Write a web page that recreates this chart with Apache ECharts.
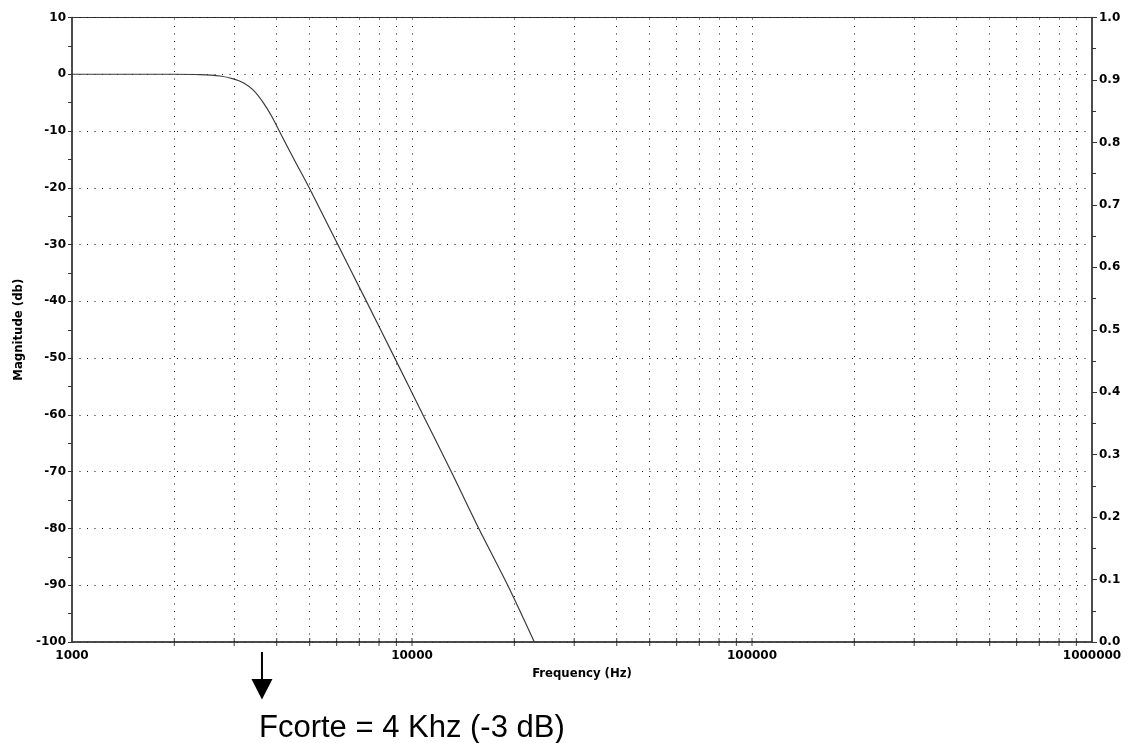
<!DOCTYPE html>
<html>
<head>
<meta charset="utf-8">
<script src="https://cdn.jsdelivr.net/npm/echarts@6/dist/echarts.min.js"></script>
<style>
html,body{margin:0;padding:0;background:#fff;}
#chart{width:1134px;height:743px;}
</style>
</head>
<body>
<div id="chart"></div>
<script>
// Frequency response
const freqHz = [1000, 1500, 2000, 2380, 2725, 2982, 3190, 3414, 3652, 3866, 4070, 4500, 4985, 6050, 7346, 8900, 10772, 13050, 15720, 19120, 22900];
const magnitudeDb = [0, 0, 0, -0.05, -0.3, -0.8, -1.5, -2.8, -5.0, -7.4, -10, -15, -20, -30, -40, -50, -60, -70, -80, -90, -100];

// Vertical grid / tick positions on the log frequency axis
const gridFreqs = [2000, 3000, 4000, 5000, 6000, 7000, 8000, 9000, 10000,
  20000, 30000, 40000, 50000, 60000, 70000, 80000, 90000, 100000,
  200000, 300000, 400000, 500000, 600000, 700000, 800000, 900000];

const xName = 'Frequency (Hz)';
const yName = 'Magnitude (db)';
const annotationText = 'Fcorte = 4 Khz (-3 dB)';
const markerFreq = 3620;

const chart = echarts.init(document.getElementById('chart'), null, {renderer: 'canvas'});
const FONT = '"Liberation Sans", Arial, sans-serif';
const LBL = '"DejaVu Sans", sans-serif';
const NAMEF = '"DejaVu Sans Condensed", "DejaVu Sans", sans-serif';
const dotted = {type: [1, 6.5], color: '#111', width: 1};

const option = {
  animation: false,
  backgroundColor: '#fff',
  grid: {left: 72, right: 42, top: 17.5, bottom: 101, show: true, borderColor: '#333', borderWidth: 1, backgroundColor: 'transparent'},
  xAxis: {
    type: 'log', logBase: 10, min: 1000, max: 1000000,
    name: xName, nameLocation: 'middle', nameGap: 14,
    nameTextStyle: {fontFamily: NAMEF, fontWeight: 'bold', fontSize: 13, color: '#000'},
    axisLine: {show: true, onZero: false, lineStyle: {color: '#333', width: 1.5}},
    axisTick: {show: false},
    splitLine: {show: false},
    axisLabel: {formatter: v => String(Math.round(v)), fontFamily: LBL, fontWeight: 'bold', fontSize: 12, color: '#000', margin: 8}
  },
  yAxis: [
    {
      type: 'value', min: -100, max: 10, interval: 10, position: 'left',
      name: yName, nameLocation: 'middle', nameGap: 47,
      nameTextStyle: {fontFamily: NAMEF, fontWeight: 'bold', fontSize: 13, color: '#000'},
      axisLine: {show: true, onZero: false, lineStyle: {color: '#333', width: 1.5}},
      axisTick: {show: true, length: 4, lineStyle: {color: '#333'}},
      minorTick: {show: true, splitNumber: 2, length: 4, lineStyle: {color: '#333'}},
      splitLine: {show: true, lineStyle: dotted},
      axisLabel: {fontFamily: LBL, fontWeight: 'bold', fontSize: 12, color: '#000', margin: 6}
    },
    {
      type: 'value', min: 0, max: 1, interval: 0.1, position: 'right',
      axisLine: {show: true, onZero: false, lineStyle: {color: '#333', width: 1.5}},
      axisTick: {show: true, length: 5, lineStyle: {color: '#333'}},
      minorTick: {show: true, splitNumber: 2, length: 4, lineStyle: {color: '#333'}},
      splitLine: {show: false},
      axisLabel: {formatter: v => v.toFixed(1), fontFamily: LBL, fontWeight: 'bold', fontSize: 12, color: '#000', margin: 7}
    }
  ],
  series: [
    {
      type: 'scatter', xAxisIndex: 0, yAxisIndex: 0, silent: true, clip: false,
      symbol: 'rect', symbolSize: [1.2, 8],
      itemStyle: {color: '#333'},
      data: gridFreqs.map(f => [f, -100]),
      markLine: {
        silent: true, symbol: 'none', label: {show: false},
        lineStyle: dotted,
        data: gridFreqs.map(f => ({xAxis: f}))
      },
      z: 1
    },
    {
      type: 'line', xAxisIndex: 0, yAxisIndex: 0,
      data: freqHz.map((f, i) => [f, magnitudeDb[i]]),
      showSymbol: false, smooth: 0.3,
      lineStyle: {color: '#3a3a3a', width: 1.2},
      z: 3
    }
  ]
};
chart.setOption(option);

const ax = chart.convertToPixel({xAxisIndex: 0}, markerFreq);
chart.setOption({
  graphic: [
    {type: 'line', shape: {x1: ax, y1: 652, x2: ax, y2: 681}, style: {stroke: '#000', lineWidth: 2}},
    {type: 'polygon', shape: {points: [[ax - 10.5, 679], [ax + 10.5, 679], [ax, 699.5]]}, style: {fill: '#000'}},
    {type: 'text', x: ax - 3, y: 728.4, style: {text: annotationText, font: '31px ' + FONT, fill: '#000', align: 'left', verticalAlign: 'middle', textAlign: 'left', textVerticalAlign: 'middle'}}
  ]
});
</script>
</body>
</html>
